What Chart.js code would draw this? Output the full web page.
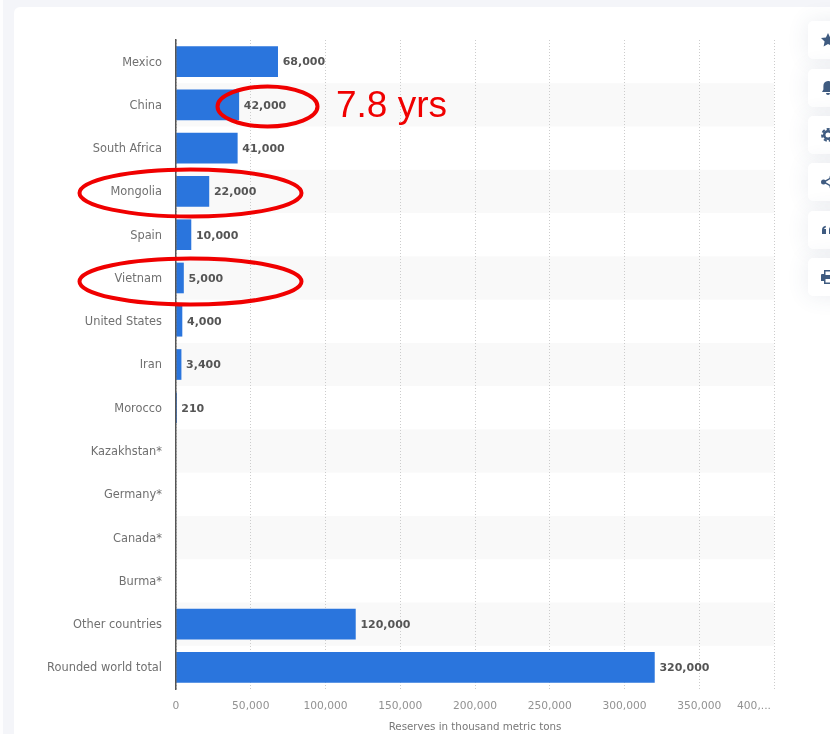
<!DOCTYPE html>
<html>
<head>
<meta charset="utf-8">
<title>Reserves in thousand metric tons</title>
<script src="https://cdn.jsdelivr.net/npm/chart.js@4"></script>
<style>
    html, body { margin: 0; padding: 0; background: #f4f5f9; overflow: hidden; }
    #page { position: relative; width: 830px; height: 734px; overflow: hidden; }
    #edge { position: absolute; left: 0; top: 0; width: 3px; height: 734px; background: #fdfdfe; }
    #card { position: absolute; left: 14px; top: 7px; width: 840px; height: 760px; background: #fff;
            border-radius: 6px; }
    #wrap { position: absolute; left: 0; top: 0; width: 830px; height: 734px; }
    #notes { position: absolute; left: 0; top: 0; }
    .tool { position: absolute; left: 808px; width: 60px; height: 38px; background: #fff; border-radius: 5px;
            box-shadow: 0 0 22px rgba(60, 80, 120, 0.11); }
    .tool svg { position: absolute; left: 13px; top: 12px; width: 14px; height: 14px; fill: #3f5b80; }
</style>
</head>
<body>
<div id="page">
    <div id="edge"></div>
    <div id="card"></div>

    <!-- side toolbar: star, bell, gear, share, quote, print -->
    <div class="tool" style="top:21px"><svg viewBox="0 0 14 14"><path d="M7 0l2.100 4.500 4.900.6-3.600 3.400 1 4.900L7 11l-4.400 2.400 1-4.900L0 5.100l4.900-.6z"/></svg></div>
    <div class="tool" style="top:69px"><svg viewBox="0 0 14 14"><path d="M7 0c3 0 4.600 2.200 4.600 5v3.500L13 11H1l1.400-2.500V5C2.400 2.200 4 0 7 0zM5 12h4a2 2 0 0 1-4 0z"/></svg></div>
    <div class="tool" style="top:116px"><svg viewBox="0 0 14 14"><circle cx="7" cy="7" r="3.800" fill="none" stroke="#3f5b80" stroke-width="2.600"/><circle cx="7" cy="7" r="5.800" fill="none" stroke="#3f5b80" stroke-width="2.200" stroke-dasharray="3 2.060"/></svg></div>
    <div class="tool" style="top:163px"><svg viewBox="0 0 14 14"><circle cx="2.500" cy="7" r="2.500"/><circle cx="11" cy="2.500" r="2.500"/><circle cx="11" cy="11.500" r="2.500"/><path d="M2.500 6.300L10.600 2l.6 1.100L3.100 7.700zM3.100 6.300l8.100 4.600-.6 1.100L2.500 7.700z"/></svg></div>
    <div class="tool" style="top:211px"><svg viewBox="0 0 14 14"><path d="M1 7c0-2.500 1.500-4 3.800-4.300v1.700C3.800 4.600 3.200 5.200 3.200 6H5v5H1zM8 7c0-2.500 1.500-4 3.800-4.300v1.700c-1 .2-1.600.8-1.600 1.600H12v5H8z"/></svg></div>
    <div class="tool" style="top:258px"><svg viewBox="0 0 14 14"><path fill-rule="evenodd" d="M3 0h8v4h2a1 1 0 0 1 1 1v6h-3v3H3v-3H0V5a1 1 0 0 1 1-1h2zM4.500 1.500V5h5V1.500zM4.500 9v3.500h5V9z"/></svg></div>

    <div id="wrap"><canvas id="reservesChart" width="830" height="734"></canvas></div>

    <!-- hand drawn highlights on top of the chart -->
    <svg id="notes" width="830" height="734">
        <g fill="none" stroke="#f00000" stroke-width="4">
            <ellipse cx="267.500" cy="106.500" rx="50" ry="20"/>
            <ellipse cx="190.500" cy="193" rx="111" ry="23.500"/>
            <ellipse cx="190.500" cy="281.500" rx="111" ry="23"/>
        </g>
        <text x="336" y="117" fill="#f00000" font-family="Liberation Sans" font-size="37">7.8 yrs</text>
    </svg>
</div>

<script>
var countries = ['Mexico', 'China', 'South Africa', 'Mongolia', 'Spain', 'Vietnam', 'United States', 'Iran', 'Morocco',
    'Kazakhstan*', 'Germany*', 'Canada*', 'Burma*', 'Other countries', 'Rounded world total'];
var reserves = [68000, 42000, 41000, 22000, 10000, 5000, 4000, 3400, 210, null, null, null, null, 120000, 320000];
var axisMax = 400000;
var axisStep = 50000;
var axisTitle = 'Reserves in thousand metric tons';

// alternating grey rows behind the bars
var rowBands = {
    id: 'rowBands',
    beforeDraw: function (chart) {
        var ctx = chart.ctx;
        var area = chart.chartArea;
        var rowHeight = area.height / countries.length;
        ctx.save();
        ctx.fillStyle = '#f9f9f9';
        countries.forEach(function (name, i) {
            if (i % 2 === 1) {
                ctx.fillRect(area.left, chart.scales.y.getPixelForValue(i) - rowHeight / 2, area.width, rowHeight);
            }
        });
        ctx.restore();
    }
};

// value next to each bar, and the cut off last tick of the x axis
var barValues = {
    id: 'barValues',
    afterDatasetsDraw: function (chart) {
        var ctx = chart.ctx;
        var bars = chart.getDatasetMeta(0).data;
        ctx.save();
        ctx.font = 'bold 11px "DejaVu Sans"';
        ctx.fillStyle = '#555';
        ctx.textAlign = 'left';
        ctx.textBaseline = 'middle';
        reserves.forEach(function (value, i) {
            if (value !== null) {
                ctx.fillText(value.toLocaleString('en-US'), bars[i].x + 5, bars[i].y + 1);
            }
        });
        ctx.font = '10.7px "DejaVu Sans"';
        ctx.fillStyle = '#929292';
        ctx.textAlign = 'right';
        ctx.fillText(axisMax.toLocaleString('en-US').slice(0, 4) + '...', chart.chartArea.right - 3, chart.chartArea.bottom + 17);
        ctx.restore();
    }
};

var reservesChart = new Chart(document.getElementById('reservesChart').getContext('2d'), {
    type: 'bar',
    data: {
        labels: countries,
        datasets: [{
            data: reserves,
            backgroundColor: '#2a75dd',
            borderWidth: 0,
            barThickness: 30
        }]
    },
    plugins: [rowBands, barValues],
    options: {
        indexAxis: 'y',
        responsive: false,
        animation: false,
        layout: { padding: { top: 40, right: 56, bottom: 0, left: 0 } },
        plugins: { legend: { display: false }, tooltip: { enabled: false } },
        scales: {
            x: {
                min: 0,
                max: axisMax,
                afterFit: function (scale) { scale.height = 45; },
                border: { display: false, dash: [1, 2] },
                grid: { color: '#cccccc', drawTicks: false },
                ticks: {
                    stepSize: axisStep,
                    padding: 11,
                    maxRotation: 0,
                    autoSkip: false,
                    color: '#929292',
                    font: { family: 'DejaVu Sans', size: 10.7 },
                    callback: function (value) {
                        return value === axisMax ? '' : value.toLocaleString('en-US');
                    }
                },
                title: {
                    display: true,
                    text: axisTitle,
                    color: '#777',
                    font: { family: 'DejaVu Sans', size: 10.3 },
                    padding: { top: 0, bottom: 0 }
                }
            },
            y: {
                afterFit: function (scale) { scale.width = 176; },
                // axis line sits above the bars
                border: { color: '#555', width: 1.5, z: 1 },
                grid: { display: false },
                ticks: {
                    padding: 6,
                    labelOffset: 1,
                    autoSkip: false,
                    color: '#707070',
                    font: { family: 'DejaVu Sans', size: 11.4 }
                }
            }
        }
    }
});
</script>
</body>
</html>
